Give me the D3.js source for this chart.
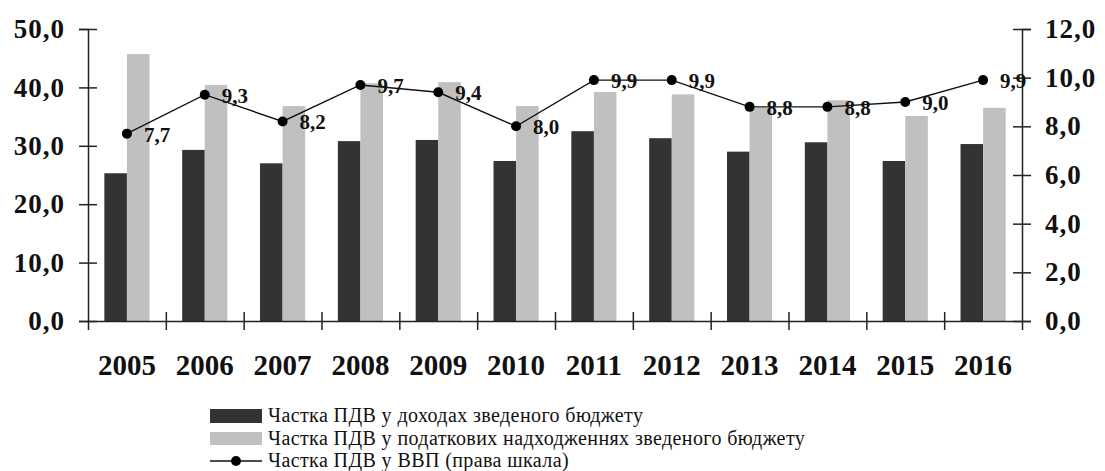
<!DOCTYPE html>
<html>
<head>
<meta charset="utf-8">
<script src="https://cdn.jsdelivr.net/npm/d3@7"></script>
<style>
  body { margin: 0; background: #fff; }
  svg { display: block; font-family: "Liberation Serif", "Times New Roman", serif; }
</style>
</head>
<body>
<svg id="chart"></svg>
<script>
var years = ["2005","2006","2007","2008","2009","2010","2011","2012","2013","2014","2015","2016"]
var vatIncome = [25.3, 29.3, 27.0, 30.8, 31.0, 27.4, 32.5, 31.3, 29.0, 30.6, 27.4, 30.3]
var vatTax    = [45.7, 40.4, 36.8, 40.7, 40.9, 36.8, 39.2, 38.8, 36.5, 37.8, 35.1, 36.5]
var vatGdp    = [7.7, 9.3, 8.2, 9.7, 9.4, 8.0, 9.9, 9.9, 8.8, 8.8, 9.0, 9.9]
var leftTicks  = [0, 10, 20, 30, 40, 50]
var rightTicks = [0, 2, 4, 6, 8, 10, 12]
var seriesNames = [
  "Частка ПДВ у доходах зведеного бюджету",
  "Частка ПДВ у податкових надходженнях зведеного бюджету",
  "Частка ПДВ у ВВП (права шкала)"
]

var W = 1105, H = 471
var plot = {left: 88, right: 1022, top: 29, bottom: 321}

var svg = d3.select("#chart").attr("width", W).attr("height", H)

var uk = d3.formatLocale({decimal: ",", thousands: " ", grouping: [3], currency: ["", ""]})
var fmt = uk.format(".1f")

// scales
var x = d3.scaleBand().domain(years).range([plot.left, plot.right]).paddingInner(0.42).paddingOuter(0.21)
var xSub = d3.scaleBand().domain([0, 1]).range([0, x.bandwidth()])
var xEdge = d3.scaleLinear().domain([0, years.length]).range([plot.left, plot.right])
var yL = d3.scaleLinear().domain([0, 50]).range([plot.bottom, plot.top])
var yR = d3.scaleLinear().domain([0, 12]).range([plot.bottom, plot.top])

var data = years.map(function(y, i) {
  return {year: y, vals: [vatIncome[i], vatTax[i]], gdp: vatGdp[i]}
})
var colors = ["#333333", "#c0c0c0"]

// bars
var groups = svg.append("g").selectAll("g")
    .data(data)
  .enter().append("g")
    .attr("transform", function(d) { return "translate(" + x(d.year) + ",0)" })

groups.selectAll("rect")
    .data(function(d) { return d.vals })
  .enter().append("rect")
    .attr("x", function(d, i) { return xSub(i) })
    .attr("width", xSub.bandwidth())
    .attr("y", function(d) { return yL(d) })
    .attr("height", function(d) { return yL(0) - yL(d) })
    .attr("fill", function(d, i) { return colors[i] })

// axes
var tickFont = "bold 27px 'Liberation Serif', 'Times New Roman', serif"

var gX = svg.append("g")
    .attr("transform", "translate(0," + plot.bottom + ")")
    .call(d3.axisBottom(xEdge).ticks(years.length).tickFormat("").tickSizeOuter(0).tickSize(9))
var gL = svg.append("g")
    .attr("transform", "translate(" + plot.left + ",0)")
    .call(d3.axisLeft(yL).tickValues(leftTicks).tickFormat(fmt).tickSizeOuter(0).tickSize(9).tickPadding(14))
var gR = svg.append("g")
    .attr("transform", "translate(" + plot.right + ",0)")
    .call(d3.axisRight(yR).tickValues(rightTicks).tickFormat(fmt).tickSizeOuter(0).tickSize(9).tickPadding(14))

gL.selectAll(".tick line").attr("x1", 9)
gR.selectAll(".tick line").attr("x1", -9)
gX.selectAll(".tick line").attr("y1", -9)
// edge ticks fall on the y axes
gX.selectAll(".tick").filter(function(d) { return d === 0 || d === years.length }).remove()

;[gL, gR, gX].forEach(function(g) {
  g.select(".domain").attr("stroke", "#222").attr("stroke-width", 1.5)
  g.selectAll(".tick line").attr("stroke", "#222").attr("stroke-width", 1.5)
  g.selectAll("text").style("font", tickFont).style("letter-spacing", "1px").attr("fill", "#111")
})

// year labels
svg.append("g").selectAll("text")
    .data(years)
  .enter().append("text")
    .attr("x", function(d) { return x(d) + x.bandwidth() / 2 })
    .attr("y", 375)
    .attr("text-anchor", "middle")
    .style("font", "bold 29px 'Liberation Serif', 'Times New Roman', serif")
    .attr("fill", "#111")
    .text(function(d) { return d })

// line (right scale)
var cx = function(d) { return x(d.year) + x.bandwidth() / 2 }
var line = d3.line().x(cx).y(function(d) { return yR(d.gdp) })

svg.append("path")
    .datum(data)
    .attr("d", line)
    .attr("fill", "none")
    .attr("stroke", "#111")
    .attr("stroke-width", 1.4)

svg.append("g").selectAll("circle")
    .data(data)
  .enter().append("circle")
    .attr("cx", cx)
    .attr("cy", function(d) { return yR(d.gdp) })
    .attr("r", 5)
    .attr("fill", "#000")

svg.append("g").selectAll("text")
    .data(data)
  .enter().append("text")
    .attr("x", function(d) { return cx(d) + 17 })
    .attr("y", function(d) { return yR(d.gdp) + 8 })
    .style("font", "bold 21px 'Liberation Serif', 'Times New Roman', serif")
    .attr("fill", "#111")
    .text(function(d) { return fmt(d.gdp) })

// legend
var legend = svg.append("g").attr("transform", "translate(210,0)")
var rowY = [416, 439, 461]

legend.append("rect").attr("x", 0).attr("y", rowY[0] - 7).attr("width", 52).attr("height", 14).attr("fill", colors[0])
legend.append("rect").attr("x", 0).attr("y", rowY[1] - 7).attr("width", 52).attr("height", 13).attr("fill", colors[1])
legend.append("line").attr("x1", 0).attr("x2", 52).attr("y1", rowY[2]).attr("y2", rowY[2])
    .attr("stroke", "#111").attr("stroke-width", 1.4)
legend.append("circle").attr("cx", 26).attr("cy", rowY[2]).attr("r", 5).attr("fill", "#000")

legend.selectAll("text.lbl")
    .data(seriesNames)
  .enter().append("text")
    .attr("class", "lbl")
    .attr("x", 58)
    .attr("y", function(d, i) { return rowY[i] + 6 })
    .style("font", "20px 'Liberation Serif', 'Times New Roman', serif")
    .style("letter-spacing", "0.4px")
    .attr("fill", "#111")
    .text(function(d) { return d })
</script>
</body>
</html>
